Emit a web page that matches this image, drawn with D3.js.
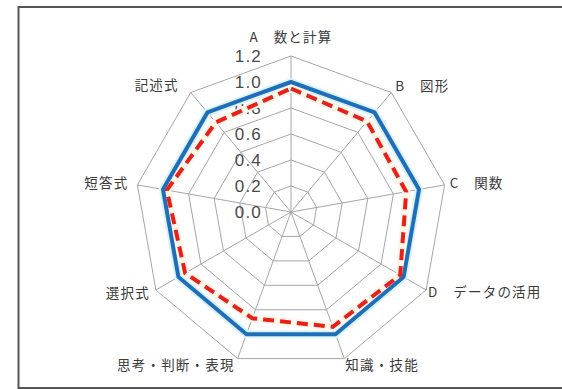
<!DOCTYPE html>
<html>
<head>
<meta charset="utf-8">
<script src="https://cdn.jsdelivr.net/npm/d3@7"></script>
<style>
  html, body { margin: 0; padding: 0; background: #fff; }
  svg { display: block; }
  .cat { font-family: "Noto Sans CJK JP", sans-serif; font-size: 13.5px; fill: #3a3a3a; letter-spacing: 1.2px; }
  .tick { font-family: "Liberation Sans", Arial, sans-serif; font-size: 17px; fill: #4a4a4a; letter-spacing: 1.2px; }
</style>
</head>
<body>
<svg id="chart" width="562" height="389"></svg>
<script>
const categories = ['A\u3000数と計算', 'B\u3000図形', 'C\u3000関数', 'D\u3000データの活用', '知識・技能', '思考・判断・表現', '選択式', '短答式', '記述式'];
const national = [1.0, 1.0, 1.0, 1.0, 1.0, 1.0, 1.0, 1.0, 1.0];
const school = [0.95, 0.91, 0.90, 0.97, 0.94, 0.87, 0.94, 0.97, 0.90];
const ticks = [0.0, 0.2, 0.4, 0.6, 0.8, 1.0, 1.2];

const svg = d3.select('#chart');
const cx = 291, cy = 212;

// frame of the chart area (right side runs off the picture)
svg.append('rect')
  .attr('x', 18.5).attr('y', 7).attr('width', 600).attr('height', 381)
  .attr('fill', 'none').attr('stroke', '#555').attr('stroke-width', 2);

const r = d3.scaleLinear().domain([0, 1.2]).range([0, 156]);
const angle = d3.scaleLinear().domain([0, categories.length]).range([0, 2 * Math.PI]);

const g = svg.append('g').attr('transform', `translate(${cx},${cy})`);
const pt = (i, v) => [Math.sin(angle(i)) * r(v), -Math.cos(angle(i)) * r(v)];

const ring = d3.line().curve(d3.curveLinearClosed);

// rings
g.selectAll('.ring')
  .data(ticks.slice(1))
  .join('path')
  .attr('class', 'ring')
  .attr('d', (t) => ring(categories.map((_, i) => pt(i, t))))
  .attr('fill', 'none').attr('stroke', '#a6a6a6').attr('stroke-width', 1);

// spokes
g.selectAll('.spoke')
  .data(categories)
  .join('line')
  .attr('x1', 0).attr('y1', 0)
  .attr('x2', (_, i) => pt(i, 1.2)[0])
  .attr('y2', (_, i) => pt(i, 1.2)[1])
  .attr('stroke', '#a6a6a6').attr('stroke-width', 1);

// value labels along the first axis
g.selectAll('.tick')
  .data(ticks)
  .join('text')
  .attr('class', 'tick')
  .attr('x', -29)
  .attr('y', (t) => -r(t))
  .attr('dy', '0.36em')
  .attr('text-anchor', 'end')
  .text((t) => t.toFixed(1));

// series: light halo under each line, then the line itself
const series = [
  { values: national, color: '#1f6fb8', halo: '#d9f3fc', width: 4, dash: null },
  { values: school, color: '#e8201a', halo: '#fff5e8', width: 4, dash: '11,6' }
];
series.forEach((s) => {
  const d = ring(s.values.map((v, i) => pt(i, v)));
  g.append('path').attr('d', d).attr('fill', 'none')
    .attr('stroke', s.halo).attr('stroke-width', s.width + 4).attr('stroke-linejoin', 'miter');
});
series.forEach((s) => {
  const d = ring(s.values.map((v, i) => pt(i, v)));
  g.append('path').attr('d', d).attr('fill', 'none')
    .attr('stroke', s.color).attr('stroke-width', s.width)
    .attr('stroke-dasharray', s.dash).attr('stroke-linejoin', 'miter');
});

// category labels outside the outer ring
const labelPos = [
  { dx: 0, dy: -19, anchor: 'middle' },
  { dx: 4, dy: -6, anchor: 'start' },
  { dx: 5, dy: -2, anchor: 'start' },
  { dx: 2, dy: 2, anchor: 'start' },
  { dx: 1, dy: 7, anchor: 'start' },
  { dx: -3, dy: 7, anchor: 'end' },
  { dx: -6, dy: 3, anchor: 'end' },
  { dx: -9, dy: -2, anchor: 'end' },
  { dx: -12, dy: -7, anchor: 'end' }
];
g.selectAll('.cat')
  .data(categories)
  .join('text')
  .attr('class', 'cat')
  .attr('x', (_, i) => pt(i, 1.2)[0] + labelPos[i].dx)
  .attr('y', (_, i) => pt(i, 1.2)[1] + labelPos[i].dy)
  .attr('dy', '0.35em')
  .attr('text-anchor', (_, i) => labelPos[i].anchor)
  .text((d) => d);
</script>
</body>
</html>
